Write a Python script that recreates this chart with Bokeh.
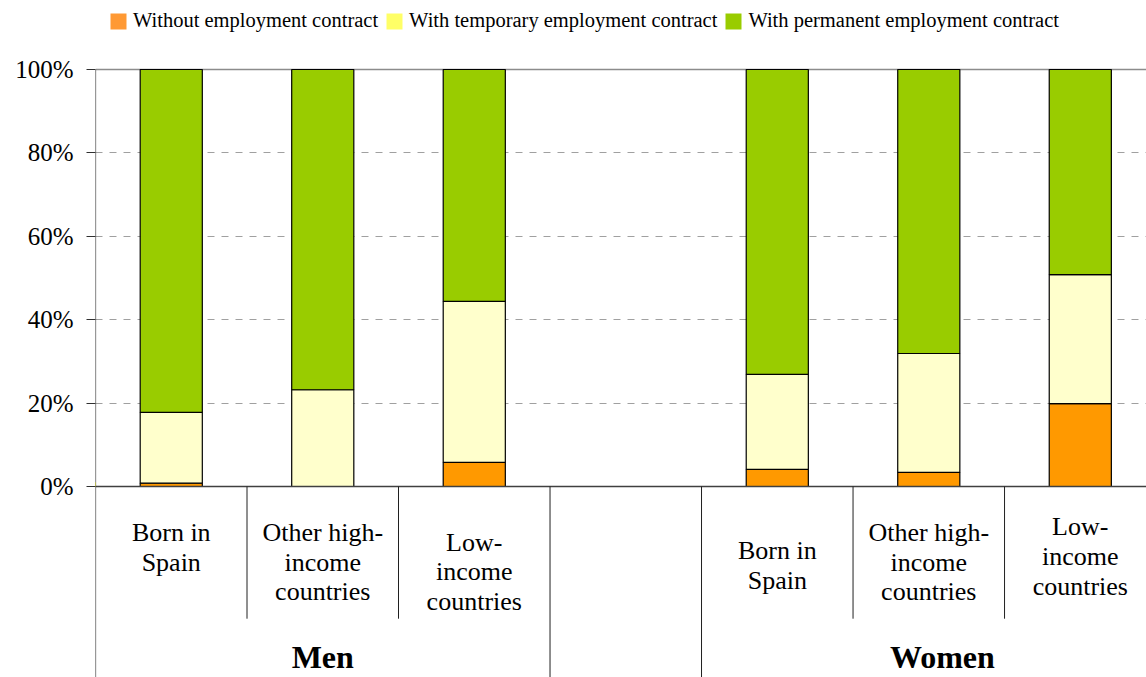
from bokeh.plotting import figure
from bokeh.models import (ColumnDataSource, Range1d, FixedTicker, PrintfTickFormatter,
                          Legend, LegendItem)
from bokeh.core.properties import value
from bokeh.embed import file_html
from bokeh.resources import INLINE

# ---------------- data ----------------
groups = ["Men", "Women"]
origins = ["Born in\nSpain", "Other high-\nincome\ncountries", "Low-\nincome\ncountries"]
series = ["Without employment contract", "With temporary employment contract",
          "With permanent employment contract"]
# shares (%) per bar, order: Men x3, Women x3
without = [0.8, 0.0, 5.8, 4.1, 3.4, 19.9]
temporary = [17.0, 23.2, 38.6, 22.8, 28.5, 30.9]
permanent = [82.2, 76.8, 55.6, 73.1, 68.1, 49.2]
y_ticks = [0, 20, 40, 60, 80, 100]

# ---------------- styles ----------------
bar_colors = ["#FF9900", "#FFFFCC", "#99CC00"]
legend_colors = ["#FF9933", "#FFFF66", "#99CC00"]
SERIF = value("Liberation Serif")
label_y_style = [-14.6, -18.2, -20.4, -18.9, -18.2, -16.8]
group_label_y = -40.9
sep_short = -31.7
Y0, Y1 = -45.8, 116.55

slots_per_group = len(origins) + 1  # empty gap slot after each group
xs = []
for g in range(len(groups)):
    for o in range(len(origins)):
        xs.append(g * slots_per_group + o + 0.5)

src = ColumnDataSource(dict(x=xs, without=without, temporary=temporary,
                            permanent=permanent,
                            label=[origins[i % len(origins)] for i in range(len(xs))],
                            ly=label_y_style))

p = figure(width=1146, height=677, output_backend="svg", toolbar_location=None,
           x_range=Range1d(0, 6.937), y_range=Range1d(Y0, Y1),
           min_border_left=95, min_border_right=0, min_border_top=0,
           min_border_bottom=0)
p.outline_line_color = None
p.xaxis.visible = False
p.xgrid.visible = False

# y axis (line drawn separately so it starts at 100%)
p.yaxis.ticker = FixedTicker(ticks=y_ticks)
p.yaxis.formatter = PrintfTickFormatter(format="%d%%")
p.yaxis.major_label_text_font = "Liberation Serif"
p.yaxis.major_label_text_font_size = "25px"
p.yaxis.major_label_text_color = "black"
p.yaxis.major_label_standoff = 13
p.yaxis.axis_line_color = None
p.yaxis.major_tick_line_color = "#303030"
p.yaxis.major_tick_out = 9
p.yaxis.major_tick_in = 0
p.yaxis.minor_tick_line_color = None

p.ygrid.ticker = FixedTicker(ticks=[t for t in y_ticks if 0 < t < 100])
p.ygrid.grid_line_color = "#A0A0A0"
p.ygrid.grid_line_dash = "7 7"
p.ygrid.grid_line_width = 1

n_slots = len(groups) * slots_per_group
p.segment([0], [y_ticks[-1]], [n_slots], [y_ticks[-1]], line_color="#8C8C8C", line_width=1.5)

# bars
p.vbar_stack(["without", "temporary", "permanent"], x="x", width=0.41, source=src,
             fill_color=bar_colors, line_color="black", line_width=1.2)

p.segment([0], [0], [n_slots], [0], line_color="#404040", line_width=1.5)
p.segment([0], [Y0], [0], [y_ticks[-1]], line_color="#303030", line_width=1.2)

# category separators
sx0, sy0, sx1, sy1 = [], [], [], []
for b in range(1, n_slots + 1):
    gap_edge = (b % slots_per_group == 0) or (b % slots_per_group == slots_per_group - 1)
    sx0.append(b); sx1.append(b); sy0.append(0)
    sy1.append(Y0 if gap_edge else sep_short)
p.segment(sx0, sy0, sx1, sy1, line_color="#202020", line_width=1)

# category labels
p.text(x="x", y="ly", text="label", source=src, text_font=SERIF,
       text_font_size=value("26px"), text_align="center", text_baseline="middle",
       text_line_height=1.02, text_color="black")

# group labels
gx = [g * slots_per_group + len(origins) / 2 for g in range(len(groups))]
gx[1] += 0.09
p.text(x=gx, y=[group_label_y] * len(groups), text=groups, text_font=SERIF,
       text_font_size=value("32px"), text_font_style="bold", text_align="center",
       text_baseline="middle", text_color="black")

# legend (off-range dummy renderers carrying legend colours)
items = []
for name, col in zip(series, legend_colors):
    r = p.vbar(x=[-10], top=[1], width=0.1, fill_color=col, line_color=None)
    items.append(LegendItem(label=name, renderers=[r]))
legend = Legend(items=items, orientation="horizontal", location=(13, 645),
                glyph_width=20, glyph_height=20, label_text_font="Liberation Serif",
                label_text_font_size="20.5px", label_text_color="black",
                label_standoff=5, spacing=6,
                padding=0, margin=0, border_line_color=None,
                background_fill_alpha=0)
p.add_layout(legend, "center")

open("out.html", "w").write(file_html(p, INLINE))
